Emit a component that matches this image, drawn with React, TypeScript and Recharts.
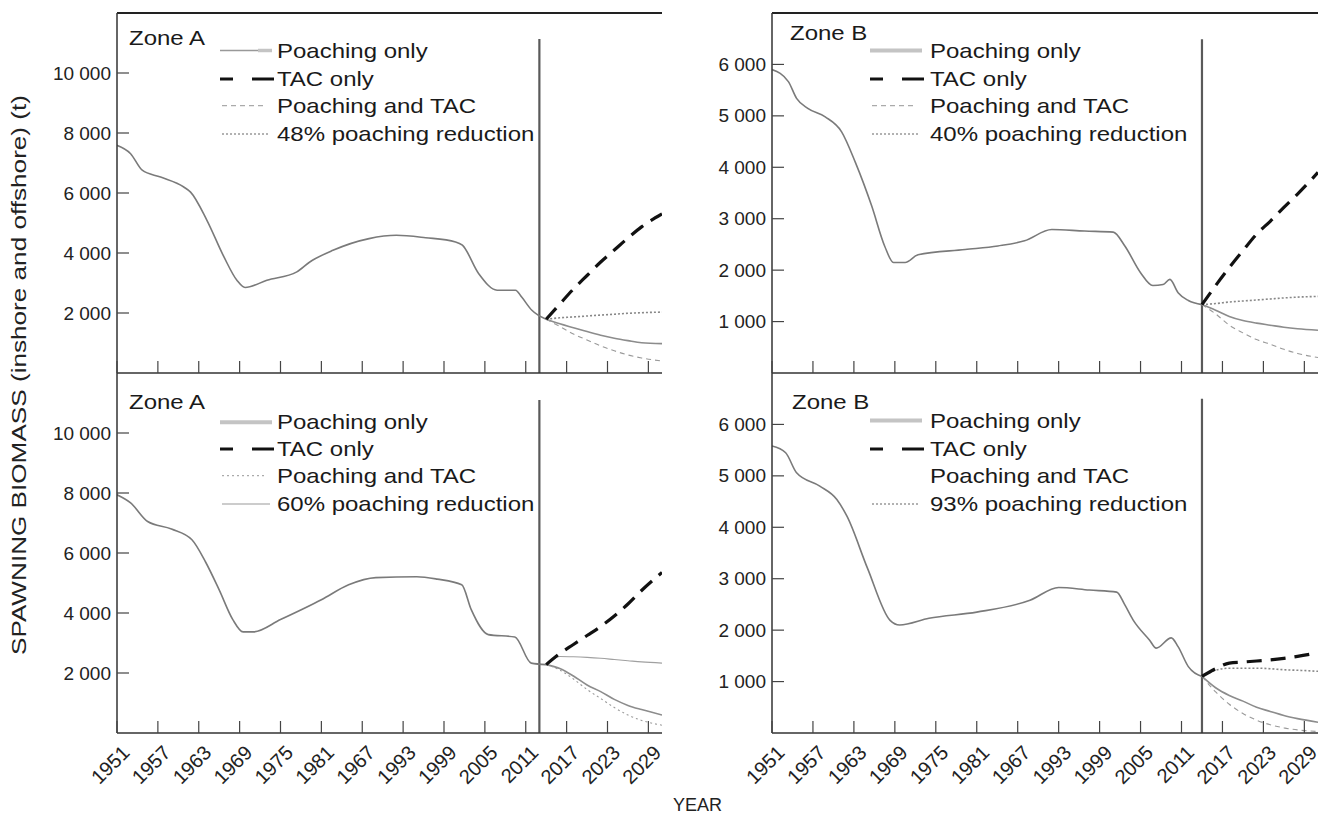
import { LineChart, Line, XAxis, YAxis, ReferenceLine } from "recharts";

const FONT = "'Liberation Sans', Arial, Helvetica, sans-serif";

// x axis
const yearTicks = [1951, 1957, 1963, 1969, 1975, 1981, 1987, 1993, 1999, 2005, 2011, 2017, 2023, 2029];
const yearLabels = ["1951", "1957", "1963", "1969", "1975", "1981", "1967", "1993", "1999", "2005", "2011", "2017", "2023", "2029"];
const projYears = [2014, 2016, 2018, 2020, 2022, 2024, 2026, 2028, 2031];

// Zone A, top (48 % poaching reduction)
const histYearsA1 = [1951, 1953, 1954.7, 1957.4, 1960.8, 1961.8, 1964.2, 1966.7, 1968.6, 1969.8, 1973, 1977.4, 1979.3, 1982.7, 1988, 1992, 1996.3, 2000.7, 2001.7, 2004.1, 2006.8, 2009.5, 2010.4, 2011.9, 2014];
const histA1 = [7590, 7310, 6760, 6530, 6200, 6030, 5090, 3870, 3090, 2850, 3090, 3370, 3700, 4090, 4480, 4590, 4510, 4370, 4260, 3310, 2760, 2760, 2530, 2090, 1790];
const poachA1 = [1790, 1640, 1510, 1380, 1260, 1160, 1080, 1010, 980];
const tacA1 = [1790, 2300, 2800, 3250, 3700, 4100, 4500, 4870, 5300];
const bothA1 = [1790, 1550, 1300, 1100, 900, 740, 600, 500, 400];
const redA1 = [1790, 1840, 1870, 1900, 1930, 1960, 1990, 2010, 2030];

// Zone B, top (40 % poaching reduction)
const histYearsB1 = [1951, 1953.4, 1954.6, 1956.3, 1958.8, 1961.2, 1963.2, 1965.6, 1967.5, 1968.8, 1970.5, 1972.4, 1979.3, 1984.1, 1988, 1992, 1996.8, 2001, 2002.7, 2005, 2006.8, 2008.3, 2009.3, 2010.5, 2012, 2014];
const histB1 = [5900, 5665, 5340, 5140, 4980, 4690, 4100, 3250, 2470, 2150, 2150, 2300, 2400, 2470, 2570, 2790, 2760, 2740, 2470, 1950, 1700, 1720, 1820, 1560, 1410, 1330];
const poachB1 = [1330, 1220, 1100, 1020, 970, 930, 890, 860, 830];
const tacB1 = [1330, 1700, 2050, 2380, 2700, 2950, 3220, 3480, 3900];
const bothB1 = [1330, 1150, 930, 780, 650, 560, 460, 380, 300];
const redB1 = [1330, 1350, 1380, 1400, 1420, 1440, 1460, 1475, 1490];

// Zone A, bottom (60 % poaching reduction)
const histYearsA2 = [1951, 1953, 1955.5, 1959, 1962, 1964, 1966, 1968, 1969.5, 1971, 1975, 1981, 1985, 1989, 1995, 1998, 2001.6, 2003, 2005.5, 2009.4, 2011.8, 2014];
const histA2 = [7940, 7670, 7050, 6800, 6440, 5700, 4770, 3780, 3370, 3370, 3780, 4440, 4940, 5180, 5210, 5130, 4940, 4110, 3280, 3200, 2330, 2280];
const poachA2 = [2280, 2150, 1900, 1600, 1380, 1120, 920, 780, 600];
const tacA2 = [2280, 2650, 2950, 3250, 3550, 3900, 4300, 4750, 5350];
const bothA2 = [2280, 2100, 1800, 1450, 1150, 850, 600, 420, 260];
const redA2 = [2280, 2550, 2540, 2520, 2490, 2450, 2410, 2370, 2330];

// Zone B, bottom (93 % poaching reduction)
const histYearsB2 = [1951, 1953, 1954.6, 1958, 1960.5, 1962, 1965, 1968.3, 1969.7, 1974, 1981, 1988.8, 1993, 1997.5, 2001.5, 2002.7, 2003.9, 2006.3, 2007.3, 2009.5, 2010.5, 2012, 2014];
const histB2 = [5580, 5450, 5060, 4800, 4540, 4210, 3200, 2190, 2100, 2230, 2350, 2580, 2830, 2780, 2740, 2490, 2200, 1810, 1650, 1850, 1680, 1290, 1100];
const poachB2 = [1100, 880, 730, 620, 500, 420, 340, 280, 210];
const tacB2 = [1100, 1250, 1360, 1380, 1400, 1420, 1450, 1490, 1560];
const bothB2 = [1100, 800, 560, 380, 250, 160, 100, 60, 30];
const redB2 = [1100, 1220, 1260, 1260, 1260, 1250, 1230, 1220, 1200];

const ticksA = [2000, 4000, 6000, 8000, 10000];
const ticksB = [1000, 2000, 3000, 4000, 5000, 6000];

type Row = { year: number; hist?: number; poach?: number; tac?: number; both?: number; red?: number };

function buildRows(histYears: number[], hist: number[], poach: number[], tac: number[], both: number[], red: number[]) {
	const rows: Row[] = histYears.map((year, i) => ({ year, hist: hist[i] }));
	projYears.forEach((year, i) => {
		let row = rows.find((r) => r.year === year);
		if (!row) {
			row = { year };
			rows.push(row);
		}
		row.poach = poach[i];
		row.tac = tac[i];
		row.both = both[i];
		row.red = red[i];
	});
	return rows.sort((a, b) => a.year - b.year);
}

const fmt = (v: number) => String(v).replace(/\B(?=(\d{3})+(?!\d))/g, " ");

const XTick = (props: any) => {
	const { x, y, payload, showLabel } = props;
	const idx = yearTicks.indexOf(payload.value);
	return (
		<g>
			<line x1={x} x2={x} y1={y} y2={y - 12} stroke="#444" strokeWidth={1.2} />
			{showLabel && (
				<text
					transform={`translate(${x + 4},${y + 11}) rotate(-45)`}
					textAnchor="end"
					dy="0.7em"
					fontSize={20}
					fontFamily={FONT}
					fill="#222"
				>
					{yearLabels[idx]}
				</text>
			)}
		</g>
	);
};

const YTick = (props: any) => {
	const { x, y, payload } = props;
	return (
		<g>
			<line x1={x} x2={x + 12} y1={y} y2={y} stroke="#444" strokeWidth={1.2} />
			<text x={x - 6} y={y} textAnchor="end" dominantBaseline="central" fontSize={19} fontFamily={FONT} fill="#222">
				{fmt(payload.value)}
			</text>
		</g>
	);
};

type PanelProps = {
	left: number;
	top: number;
	width: number;
	height: number;
	marginTop: number;
	marginRight: number;
	yAxisWidth: number;
	xAxisHeight: number;
	yMax: number;
	yTicks: number[];
	rows: Row[];
	refYear: number;
	refTop: number;
	showLabels: boolean;
	topBorder: boolean;
	redSolid?: boolean;
	bothDotted?: boolean;
};

const Panel = (p: PanelProps) => (
	<div style={{ position: "absolute", left: p.left, top: p.top }}>
		<LineChart
			width={p.width}
			height={p.height}
			data={p.rows}
			margin={{ top: p.marginTop, right: p.marginRight, bottom: 0, left: 0 }}
		>
			<XAxis
				dataKey="year"
				type="number"
				domain={[1951, 2031]}
				ticks={yearTicks}
				interval={0}
				allowDataOverflow
				height={p.xAxisHeight}
				axisLine={{ stroke: "#333", strokeWidth: 1.5 }}
				tickLine={false}
				tickSize={0}
				tickMargin={0}
				tick={<XTick showLabel={p.showLabels} />}
			/>
			<YAxis
				type="number"
				domain={[0, p.yMax]}
				ticks={p.yTicks}
				interval={0}
				allowDataOverflow
				width={p.yAxisWidth}
				axisLine={{ stroke: "#333", strokeWidth: 1.5 }}
				tickLine={false}
				tickSize={0}
				tickMargin={0}
				tick={<YTick />}
			/>
			{p.topBorder && <ReferenceLine y={p.yMax} stroke="#222" strokeWidth={2} />}
			<ReferenceLine
				segment={[
					{ x: p.refYear, y: 0 },
					{ x: p.refYear, y: p.refTop },
				]}
				stroke="#5a5a5a"
				strokeWidth={2.2}
			/>
			<Line type="monotone" dataKey="hist" stroke="#7a7a7a" strokeWidth={1.6} dot={false} isAnimationActive={false} />
			<Line type="monotone" dataKey="poach" stroke="#8c8c8c" strokeWidth={1.6} dot={false} isAnimationActive={false} />
			<Line
				type="monotone"
				dataKey="both"
				stroke="#9a9a9a"
				strokeWidth={1.1}
				strokeDasharray={p.bothDotted ? "2 3" : "5 4"}
				dot={false}
				isAnimationActive={false}
			/>
			<Line
				type="monotone"
				dataKey="red"
				stroke={p.redSolid ? "#a0a0a0" : "#888"}
				strokeWidth={p.redSolid ? 1.1 : 1.6}
				strokeDasharray={p.redSolid ? undefined : "2 2"}
				dot={false}
				isAnimationActive={false}
			/>
			<Line type="monotone" dataKey="tac" stroke="#111" strokeWidth={3.2} strokeDasharray="15 9" dot={false} isAnimationActive={false} />
		</LineChart>
	</div>
);

type LegendProps = {
	zone: string;
	zoneX: number;
	zoneY: number;
	sampleX: number;
	textX: number;
	rowY: number[];
	reduction: string;
	redSolid?: boolean;
	bothDotted?: boolean;
	hideBoth?: boolean;
	thinPoach?: boolean;
};

const sTxt = (x: number, y: number, s: string) => (
	<text transform={`translate(${x},${y}) scale(1.2,1)`} fontSize={20} fontFamily={FONT} fill="#1a1a1a">
		{s}
	</text>
);

const PanelLegend = (l: LegendProps) => {
	const sx = l.sampleX;
	const [r0, r1, r2, r3] = l.rowY;
	return (
		<g>
			{sTxt(l.zoneX, l.zoneY, l.zone)}
			{l.thinPoach ? (
				<g>
					<line x1={sx} x2={sx + 40} y1={r0 - 7} y2={r0 - 7} stroke="#999" strokeWidth={1.3} />
					<line x1={sx + 38} x2={sx + 52} y1={r0 - 7} y2={r0 - 7} stroke="#c4c4c4" strokeWidth={3.5} />
				</g>
			) : (
				<line x1={sx} x2={sx + 52} y1={r0 - 7} y2={r0 - 7} stroke="#c4c4c4" strokeWidth={4} />
			)}
			{sTxt(l.textX, r0, "Poaching only")}
			<line x1={sx} x2={sx + 13} y1={r1 - 7} y2={r1 - 7} stroke="#111" strokeWidth={3} />
			<line x1={sx + 32} x2={sx + 54} y1={r1 - 7} y2={r1 - 7} stroke="#111" strokeWidth={3} />
			{sTxt(l.textX, r1, "TAC only")}
			{!l.hideBoth && (
				<line
					x1={sx + 2}
					x2={sx + 45}
					y1={r2 - 7}
					y2={r2 - 7}
					stroke="#aaa"
					strokeWidth={1.1}
					strokeDasharray={l.bothDotted ? "2 3" : "5 4"}
				/>
			)}
			{sTxt(l.textX, r2, "Poaching and TAC")}
			<line
				x1={sx + 2}
				x2={sx + 50}
				y1={r3 - 7}
				y2={r3 - 7}
				stroke="#999"
				strokeWidth={l.redSolid ? 1.1 : 1.6}
				strokeDasharray={l.redSolid ? undefined : "2 2"}
			/>
			{sTxt(l.textX, r3, l.reduction)}
		</g>
	);
};

export default function App() {
	const rowsA1 = buildRows(histYearsA1, histA1, poachA1, tacA1, bothA1, redA1);
	const rowsB1 = buildRows(histYearsB1, histB1, poachB1, tacB1, bothB1, redB1);
	const rowsA2 = buildRows(histYearsA2, histA2, poachA2, tacA2, bothA2, redA2);
	const rowsB2 = buildRows(histYearsB2, histB2, poachB2, tacB2, bothB2, redB2);

	return (
		<div
			style={{
				position: "absolute",
				left: 0,
				top: 0,
				width: 1321,
				height: 816,
				background: "#fff",
				overflow: "hidden",
				fontFamily: FONT,
			}}
		>
			<Panel left={0} top={0} width={680} height={374} marginTop={13} marginRight={18} yAxisWidth={117} xAxisHeight={1}
				yMax={12000} yTicks={ticksA} rows={rowsA1} refYear={2013} refTop={11130} showLabels={false} topBorder />
			<Panel left={680} top={0} width={641} height={374} marginTop={13} marginRight={3} yAxisWidth={92} xAxisHeight={1}
				yMax={7000} yTicks={ticksB} rows={rowsB1} refYear={2014} refTop={6490} showLabels={false} topBorder />
			<Panel left={0} top={373} width={680} height={443} marginTop={0} marginRight={18} yAxisWidth={117} xAxisHeight={83}
				yMax={12000} yTicks={ticksA} rows={rowsA2} refYear={2013} refTop={11100} showLabels={true} topBorder={false}
				redSolid bothDotted />
			<Panel left={680} top={373} width={641} height={443} marginTop={0} marginRight={3} yAxisWidth={92} xAxisHeight={83}
				yMax={7000} yTicks={ticksB} rows={rowsB2} refYear={2014} refTop={6500} showLabels={true} topBorder={false} />

			<svg width={1321} height={816} style={{ position: "absolute", left: 0, top: 0, pointerEvents: "none" }}>
				<PanelLegend zone="Zone A" zoneX={129} zoneY={45} sampleX={220} textX={277} rowY={[57.5, 86, 112.6, 141]}
					reduction="48% poaching reduction" thinPoach />
				<PanelLegend zone="Zone B" zoneX={790} zoneY={39.5} sampleX={870} textX={930} rowY={[57.5, 86, 112.6, 141]}
					reduction="40% poaching reduction" />
				<PanelLegend zone="Zone A" zoneX={129} zoneY={409} sampleX={220} textX={277} rowY={[429.3, 456, 482.6, 511]}
					reduction="60% poaching reduction" redSolid bothDotted />
				<PanelLegend zone="Zone B" zoneX={792} zoneY={409} sampleX={870} textX={930} rowY={[427.6, 456, 482.6, 511]}
					reduction="93% poaching reduction" hideBoth />
				<text
					transform="translate(26,375) rotate(-90)"
					textAnchor="middle"
					fontSize={20}
					fontFamily={FONT}
					fill="#222"
					textLength={560}
					lengthAdjust="spacingAndGlyphs"
				>
					SPAWNING BIOMASS (inshore and offshore) (t)
				</text>
				<text x={673} y={811} fontSize={18} fontFamily={FONT} fill="#222">
					YEAR
				</text>
			</svg>
		</div>
	);
}
